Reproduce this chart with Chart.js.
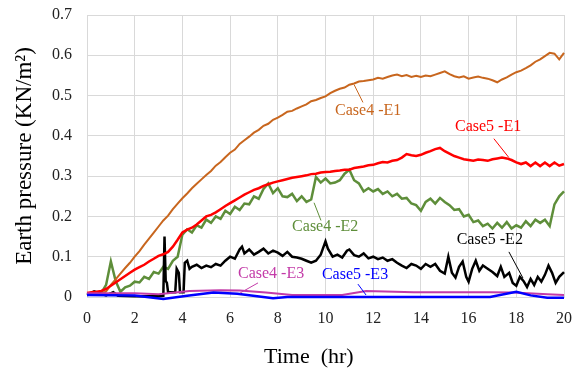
<!DOCTYPE html>
<html>
<head>
<meta charset="utf-8">
<script src="https://cdn.jsdelivr.net/npm/chart.js@4/dist/chart.umd.min.js"></script>
<style>
html,body{margin:0;padding:0;background:#fff;}
#c{display:block;}
</style>
</head>
<body>
<canvas id="c" width="581" height="370"></canvas>
<script>
// ---- data (time in hr, earth pressure in KN/m2) ----
const timeFine = [0,0.2,0.4,0.6,0.8,1,1.2,1.4,1.6,1.8,2,2.2,2.4,2.6,2.8,3,3.2,3.4,3.6,3.8,4,4.2,4.4,4.6,4.8,5,5.2,5.4,5.6,5.8,6,6.2,6.4,6.6,6.8,7,7.2,7.4,7.6,7.8,8,8.2,8.4,8.6,8.8,9,9.2,9.4,9.6,9.8,10,10.2,10.4,10.6,10.8,11,11.2,11.4,11.6,11.8,12,12.2,12.4,12.6,12.8,13,13.2,13.4,13.6,13.8,14,14.2,14.4,14.6,14.8,15,15.2,15.4,15.6,15.8,16,16.2,16.4,16.6,16.8,17,17.2,17.4,17.6,17.8,18,18.2,18.4,18.6,18.8,19,19.2,19.4,19.6,19.8,20];

const case4E1 = [0.005,0.006,0.007,0.008,0.014,0.03,0.044,0.058,0.072,0.085,0.10,0.114,0.13,0.145,0.16,0.175,0.19,0.202,0.218,0.232,0.245,0.257,0.27,0.281,0.292,0.303,0.313,0.326,0.335,0.347,0.358,0.366,0.38,0.389,0.398,0.408,0.415,0.425,0.43,0.44,0.445,0.452,0.46,0.462,0.468,0.473,0.478,0.486,0.489,0.494,0.498,0.506,0.512,0.517,0.52,0.527,0.53,0.535,0.536,0.538,0.54,0.544,0.542,0.546,0.55,0.552,0.548,0.551,0.546,0.549,0.546,0.55,0.548,0.552,0.556,0.56,0.553,0.548,0.545,0.548,0.542,0.545,0.547,0.544,0.542,0.538,0.533,0.54,0.545,0.552,0.558,0.562,0.568,0.575,0.584,0.59,0.598,0.606,0.604,0.59,0.606];

const case5E1 = [0.01,0.012,0.013,0.015,0.02,0.028,0.036,0.044,0.052,0.06,0.068,0.074,0.08,0.088,0.095,0.102,0.106,0.112,0.125,0.142,0.16,0.167,0.172,0.18,0.19,0.2,0.204,0.21,0.218,0.226,0.233,0.24,0.247,0.254,0.26,0.266,0.27,0.276,0.28,0.284,0.287,0.29,0.293,0.296,0.298,0.30,0.302,0.305,0.306,0.309,0.31,0.311,0.313,0.314,0.316,0.316,0.32,0.322,0.324,0.327,0.328,0.332,0.335,0.334,0.338,0.34,0.346,0.355,0.352,0.35,0.353,0.358,0.362,0.367,0.37,0.362,0.356,0.35,0.346,0.342,0.34,0.338,0.341,0.34,0.338,0.342,0.344,0.346,0.344,0.34,0.334,0.33,0.334,0.325,0.334,0.325,0.334,0.325,0.334,0.326,0.33];

const case4E2 = [0.005,0.006,0.008,0.01,0.03,0.088,0.04,0.013,0.024,0.028,0.038,0.036,0.05,0.045,0.062,0.058,0.075,0.07,0.09,0.1,0.155,0.168,0.16,0.178,0.172,0.192,0.184,0.2,0.194,0.214,0.206,0.224,0.216,0.232,0.23,0.25,0.244,0.268,0.282,0.258,0.27,0.25,0.248,0.256,0.238,0.25,0.236,0.242,0.298,0.284,0.294,0.282,0.284,0.29,0.306,0.316,0.29,0.282,0.262,0.27,0.262,0.268,0.256,0.262,0.25,0.256,0.244,0.246,0.232,0.228,0.214,0.236,0.244,0.232,0.246,0.236,0.228,0.216,0.218,0.2,0.204,0.186,0.19,0.176,0.182,0.17,0.184,0.172,0.186,0.17,0.178,0.172,0.188,0.176,0.192,0.184,0.192,0.176,0.23,0.25,0.262];

const timeE2b = [0,0.3,0.5,0.8,1.1,1.3,2,3,3.2,3.25,3.3,3.35,3.4,3.7,3.76,3.85,3.9,4.05,4.1,4.2,4.3,4.4,4.6,4.8,5,5.2,5.4,5.6,5.8,6,6.2,6.4,6.5,6.6,6.8,7,7.2,7.4,7.6,7.8,8,8.2,8.4,8.6,8.8,9,9.2,9.4,9.6,9.8,10,10.1,10.3,10.5,10.7,10.9,11,11.2,11.4,11.6,11.8,12,12.2,12.4,12.6,12.8,13,13.2,13.4,13.6,13.8,14,14.2,14.4,14.6,14.8,15,15.15,15.3,15.45,15.6,15.75,15.9,16,16.15,16.3,16.45,16.6,16.8,17,17.2,17.35,17.5,17.7,17.85,18,18.15,18.3,18.45,18.6,18.75,18.9,19.05,19.2,19.35,19.5,19.65,19.8,20];
const case5E2 = [0.005,0.014,0.01,0.004,0.012,0.003,0.002,0.002,0.003,0.15,0.04,0.035,0.012,0.012,0.07,0.06,0.012,0.012,0.085,0.09,0.07,0.075,0.08,0.072,0.078,0.074,0.082,0.078,0.09,0.1,0.095,0.118,0.125,0.108,0.118,0.105,0.112,0.12,0.108,0.115,0.11,0.102,0.112,0.1,0.098,0.095,0.09,0.085,0.09,0.105,0.138,0.12,0.1,0.105,0.098,0.115,0.118,0.104,0.1,0.108,0.096,0.1,0.094,0.098,0.09,0.094,0.085,0.078,0.072,0.082,0.078,0.07,0.082,0.075,0.082,0.065,0.058,0.1,0.06,0.048,0.075,0.088,0.05,0.038,0.07,0.09,0.065,0.078,0.07,0.062,0.052,0.075,0.05,0.06,0.035,0.028,0.05,0.04,0.025,0.045,0.03,0.05,0.038,0.055,0.078,0.06,0.035,0.05,0.062];

const timeE3a = [0,2,3,4.3,5.6,6.4,7.5,8.6,10.7,11.7,13.7,16.9,17.9,19.3,20];
const case4E3 = [0.009,0.009,0.007,0.015,0.017,0.016,0.011,0.005,0.005,0.015,0.012,0.012,0.011,0.007,0.005];

const timeE3b = [0,2,3.2,4.2,5.3,6.3,7.8,8.4,10.6,16.9,18,18.6,19.3,20];
const case5E3 = [0.005,0.004,-0.005,0.003,0.011,0.008,-0.003,0,0,0,0.013,0.004,-0.002,-0.002];

const xTicks = [0,2,4,6,8,10,12,14,16,18,20];
const yTicks = [0,0.1,0.2,0.3,0.4,0.5,0.6,0.7];

// label annotations (data coordinates)
const labelTexts = ['Case4 -E1','Case5 -E1','Case4 -E2','Case5 -E2','Case4 -E3','Case5 -E3'];
const labelAt = [[10.4,0.463],[15.43,0.423],[8.6,0.174],[15.5,0.142],[6.33,0.057],[9.85,0.055]];
const leaderFrom = [[11.2,0.527],[17.06,0.393],[9.52,0.234],[17.69,0.112],[7.17,0.035],[11.36,0.032]];
const leaderTo = [[11.57,0.483],[17.69,0.346],[9.81,0.19],[18.28,0.047],[6.42,0.01],[11.7,0.005]];
const labelColors = ['#C8661E','#FF0000','#5E8E3A','#000000','#C33BA8','#0000FF'];

function pts(xs, ys){ return xs.map((x,i)=>({x:x, y:ys[i]})); }

const serif = "'Liberation Serif','Times New Roman',serif";

const annotPlugin = {
  id:'annot',
  afterDatasetsDraw(chart){
    const {ctx, scales:{x, y}} = chart;
    ctx.save();
    ctx.font = "16px " + serif;
    ctx.textAlign = 'left';
    ctx.textBaseline = 'middle';
    labelTexts.forEach((t,i)=>{
      ctx.strokeStyle = labelColors[i];
      ctx.lineWidth = 1;
      ctx.beginPath();
      ctx.moveTo(x.getPixelForValue(leaderFrom[i][0]), y.getPixelForValue(leaderFrom[i][1]));
      ctx.lineTo(x.getPixelForValue(leaderTo[i][0]), y.getPixelForValue(leaderTo[i][1]));
      ctx.stroke();
      ctx.fillStyle = labelColors[i];
      ctx.fillText(t, x.getPixelForValue(labelAt[i][0]), y.getPixelForValue(labelAt[i][1]));
    });
    // x-axis title
    ctx.fillStyle = '#000';
    ctx.font = "22px " + serif;
    ctx.textAlign = 'center';
    ctx.fillText('Time  (hr)', x.getPixelForValue(9.3), 357);
    ctx.restore();
  }
};

const ds = (label, data, color, w) => ({label, data, borderColor:color, backgroundColor:color, borderWidth:w, pointRadius:0, tension:0, fill:false, clip:6});

new Chart(document.getElementById('c'), {
  type:'line',
  data:{
    datasets:[
      ds('Case5 -E3', pts(timeE3b, case5E3), '#0000FF', 2.5),
      ds('Case4 -E3', pts(timeE3a, case4E3), '#C33BA8', 2),
      ds('Case5 -E1', pts(timeFine, case5E1), '#FF0000', 2.5),
      ds('Case4 -E1', pts(timeFine, case4E1), '#C8661E', 2),
      ds('Case5 -E2', pts(timeE2b, case5E2), '#000000', 2.5),
      ds('Case4 -E2', pts(timeFine, case4E2), '#5E8E3A', 2.5)
    ]
  },
  options:{
    responsive:false,
    devicePixelRatio:1,
    animation:false,
    layout:{padding:{top:15, right:17, left:0, bottom:0}},
    plugins:{legend:{display:false}, tooltip:{enabled:false}},
    scales:{
      x:{
        type:'linear', min:0, max:20,
        afterBuildTicks(s){ s.ticks = xTicks.map(v=>({value:v})); },
        afterFit(s){ s.height = 73; s.paddingLeft = 0; s.paddingRight = 0; },
        grid:{color:'#d9d9d9', drawTicks:false},
        border:{color:'#d9d9d9'},
        ticks:{padding:12, color:'#222', font:{family:serif, size:16}, maxRotation:0}
      },
      y:{
        type:'linear', min:0, max:0.7,
        afterBuildTicks(s){ s.ticks = yTicks.map(v=>({value:v})); },
        afterFit(s){ s.width = 87; s.paddingTop = 0; s.paddingBottom = 0; },
        grid:{color:'#d9d9d9', drawTicks:false},
        border:{color:'#d9d9d9'},
        ticks:{padding:15, color:'#222', font:{family:serif, size:16}, callback:v=>String(Math.round(v*10)/10)},
        title:{display:true, text:'Earth pressure (KN/m²)', color:'#000', font:{family:serif, size:23}, padding:{top:11, bottom:0}}
      }
    }
  },
  plugins:[annotPlugin]
});
</script>
</body>
</html>
